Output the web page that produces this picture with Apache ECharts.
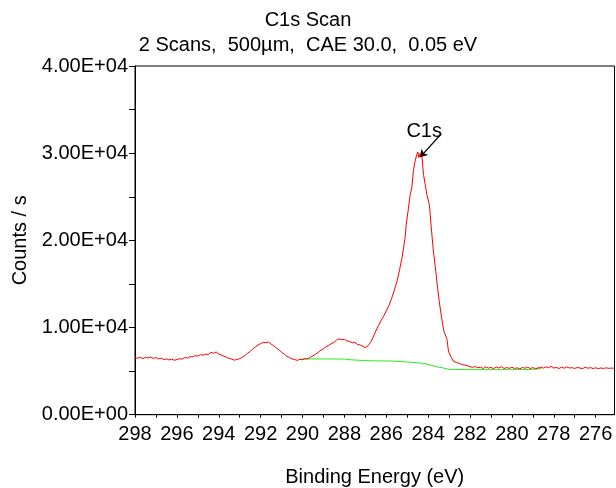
<!DOCTYPE html>
<html>
<head>
<meta charset="utf-8">
<script src="https://cdn.jsdelivr.net/npm/echarts@6/dist/echarts.min.js"></script>
<style>html,body{margin:0;padding:0;background:#fff}#c{width:616px;height:488px}</style>
</head>
<body>
<div id="c"></div>
<script>
// Measured C1s spectrum: [binding energy (eV), counts / s]
const c1sSpectrum = [
  [298.000,6550],[297.875,6480],[297.750,6600],[297.625,6420],[297.500,6580],[297.375,6500],[297.250,6620],[297.125,6450],
  [297.000,6560],[296.875,6400],[296.750,6480],[296.625,6330],[296.500,6400],[296.375,6280],[296.250,6380],[296.125,6240],
  [296.000,6330],[295.875,6420],[295.750,6380],[295.625,6550],[295.500,6500],[295.375,6650],[295.250,6620],[295.125,6780],
  [295.000,6720],[294.875,6880],[294.750,6820],[294.625,6950],[294.500,6900],[294.375,7150],[294.250,7050],[294.125,7200],
  [294.000,6950],[293.875,6850],[293.750,6700],[293.625,6580],[293.500,6450],[293.375,6380],[293.250,6250],[293.125,6350],
  [293.000,6420],[292.875,6600],[292.750,6780],[292.625,7050],[292.500,7250],[292.375,7550],[292.250,7750],[292.125,8000],
  [292.000,8150],[291.875,8300],[291.750,8250],[291.625,8350],[291.500,8100],[291.375,7900],[291.250,7650],[291.125,7450],
  [291.000,7150],[290.875,6950],[290.750,6700],[290.625,6550],[290.500,6400],[290.375,6320],[290.250,6230],[290.125,6350],
  [290.000,6300],[289.875,6420],[289.750,6400],[289.625,6600],[289.500,6750],[289.375,6950],[289.250,7150],[289.125,7400],
  [289.000,7550],[288.875,7800],[288.750,7950],[288.625,8150],[288.500,8300],[288.375,8550],[288.250,8700],[288.125,8600],
  [288.000,8650],[287.875,8450],[287.750,8400],[287.625,8250],[287.500,8300],[287.375,8050],[287.250,8000],[287.125,7850],
  [287.000,7700],[286.875,7900],[286.750,8300],[286.625,8900],[286.500,9600],[286.375,10200],[286.250,10800],[286.125,11300],
  [286.000,11900],[285.875,12500],[285.750,13300],[285.625,14200],[285.500,15200],[285.375,16500],[285.250,18000],
  [285.100,20300],[285.050,21760],[284.940,23700],[284.860,25230],[284.780,26000],[284.700,28100],[284.620,29100],
  [284.550,29800],[284.490,30140],[284.440,29500],[284.380,30000],[284.300,29670],[284.220,27550],[284.060,25230],
  [283.940,24080],[283.860,21760],[283.760,19000],[283.660,17000],[283.570,15000],[283.470,13000],[283.350,11000],
  [283.250,9600],[283.100,8640],[283.030,7290],[282.900,6600],[282.800,6130],[282.650,6000],
  [282.500,5870],[282.375,5750],[282.250,5700],[282.125,5620],[282.000,5500],[281.875,5440],[281.750,5520],[281.625,5380],
  [281.500,5450],[281.375,5300],[281.250,5480],[281.125,5350],[281.000,5420],[280.875,5280],[280.750,5450],[280.625,5350],
  [280.500,5500],[280.375,5300],[280.250,5400],[280.125,5320],[280.000,5450],[279.875,5300],[279.750,5380],[279.625,5250],
  [279.500,5420],[279.375,5330],[279.250,5450],[279.125,5300],[279.000,5400],[278.875,5280],[278.750,5360],[278.625,5450],
  [278.500,5340],[278.375,5500],[278.250,5380],[278.125,5550],[278.000,5350],[277.875,5420],[277.750,5300],[277.625,5450],
  [277.500,5330],[277.375,5480],[277.250,5350],[277.125,5400],[277.000,5300],[276.875,5420],[276.750,5350],[276.625,5280],
  [276.500,5450],[276.375,5330],[276.250,5400],[276.125,5300],[276.000,5380],[275.875,5290],[275.750,5360],[275.625,5300],
  [275.500,5380],[275.375,5320],[275.250,5350],[275.125,5330]
];
// Background (green) curve
const bgEnergy = [290.10,289.00,288.00,287.70,287.00,286.30,285.70,285.00,284.50,284.20,283.90,283.60,283.30,283.00,282.00,280.00,279.00,278.60];
const bgCounts = [6400,6400,6380,6300,6200,6170,6150,6050,5950,5880,5710,5500,5370,5200,5170,5170,5190,5300];
// Axis ticks and labels
const xTickValues = [276,277,278,279,280,281,282,283,284,285,286,287,288,289,290,291,292,293,294,295,296,297,298];
const xLabelValues = [276,278,280,282,284,286,288,290,292,294,296,298];
// Peak annotation
const peakName = 'C1s';
const peakArrowFrom = [283.38, 32200];
const peakArrowTo = [284.38, 29550];
const peakLabelAt = [284.19, 32450];

const FONT = "'Liberation Sans', Arial, sans-serif";
const FS = 20;
const pair = (xs, ys) => xs.map((x, i) => [x, ys[i]]);
const fmtE = v => {
  if (v === 0) return '0.00E+00';
  const e = Math.floor(Math.log10(Math.abs(v)));
  const m = v / Math.pow(10, e);
  return m.toFixed(2) + 'E' + (e >= 0 ? '+' : '-') + String(Math.abs(e)).padStart(2, '0');
};

const chart = echarts.init(document.getElementById('c'), null, {renderer: 'canvas'});
chart.setOption({
  animation: false,
  backgroundColor: '#fff',
  textStyle: {fontFamily: FONT},
  title: [
    {text: 'C1s Scan', left: 'center', top: 5, textStyle: {fontFamily: FONT, fontSize: FS, fontWeight: 'normal', color: '#000'}},
    {text: '2 Scans,  500µm,  CAE 30.0,  0.05 eV', left: 'center', top: 30, textStyle: {fontFamily: FONT, fontSize: FS, fontWeight: 'normal', color: '#000'}}
  ],
  grid: {left: 135, top: 66, right: 1.5, bottom: 73.3, show: true, borderColor: '#000', borderWidth: 1, backgroundColor: 'transparent', containLabel: false, outerBoundsMode: 'none'},
  xAxis: {
    type: 'value', inverse: true, min: 275.1, max: 298,
    name: 'Binding Energy (eV)', nameLocation: 'middle', nameGap: 53,
    nameTextStyle: {fontFamily: FONT, fontSize: FS, color: '#000'},
    axisLine: {show: true, lineStyle: {color: '#000', width: 1}},
    axisTick: {show: true, length: 3, customValues: xTickValues, lineStyle: {color: '#000'}},
    axisLabel: {customValues: xLabelValues, fontFamily: FONT, fontSize: FS, color: '#000', margin: 10},
    splitLine: {show: false}
  },
  yAxis: {
    type: 'value', min: 0, max: 40000, interval: 10000,
    name: 'Counts / s', nameLocation: 'middle', nameGap: 102, nameRotate: 90,
    nameTextStyle: {fontFamily: FONT, fontSize: FS, color: '#000'},
    axisLine: {show: true, lineStyle: {color: '#000', width: 1}},
    axisTick: {show: true, length: 6, lineStyle: {color: '#000'}},
    minorTick: {show: true, splitNumber: 2, length: 6, lineStyle: {color: '#000'}},
    axisLabel: {formatter: fmtE, fontFamily: FONT, fontSize: FS, color: '#000', margin: 7},
    splitLine: {show: false}
  },
  series: [
    {
      name: 'C1s', type: 'line', data: c1sSpectrum, showSymbol: false, symbol: 'none',
      lineStyle: {color: '#ff0000', width: 1}, z: 3,
      markLine: {
        silent: true, symbol: ['none', 'arrow'], symbolSize: 7,
        lineStyle: {color: '#000', width: 1.2, type: 'solid'},
        label: {show: false},
        data: [[{coord: peakArrowFrom}, {coord: peakArrowTo}]]
      },
      markPoint: {
        silent: true, symbol: 'circle', symbolSize: 0,
        label: {show: true, formatter: peakName, fontFamily: FONT, fontSize: FS, color: '#000', position: 'inside'},
        data: [{coord: peakLabelAt}]
      }
    },
    {
      name: 'Background', type: 'line', data: pair(bgEnergy, bgCounts), showSymbol: false, symbol: 'none',
      lineStyle: {color: '#22ee22', width: 1}, z: 2
    }
  ]
});
</script>
</body>
</html>
